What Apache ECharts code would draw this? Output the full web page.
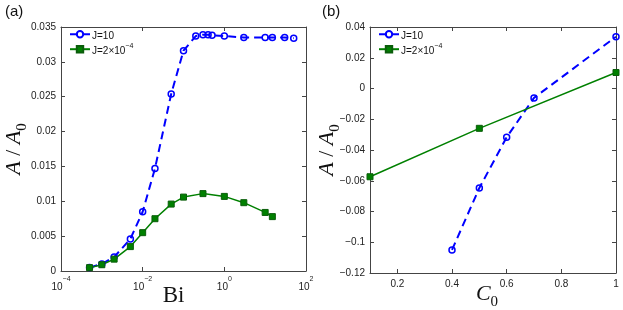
<!DOCTYPE html>
<html><head><meta charset="utf-8">
<script src="https://cdn.jsdelivr.net/npm/echarts@6/dist/echarts.min.js"></script>
<style>html,body{margin:0;padding:0;background:#fff}#c{width:623px;height:310px}</style>
</head><body><div id="c"></div>
<script>
// Panel (a): A/A0 vs Bi (log scale)
const biBlue = [5e-4, 1e-3, 2e-3, 5e-3, 1e-2, 2e-2, 5e-2, 0.1, 0.2, 0.3, 0.4, 0.5, 1, 3, 10, 15, 30, 50];
const aBlue  = [0.0005, 0.001, 0.002, 0.0046, 0.0085, 0.0147, 0.0254, 0.0316, 0.0337, 0.0339, 0.0339, 0.0338, 0.0337, 0.0335, 0.0335, 0.0335, 0.0335, 0.0334];
const biGreen = [5e-4, 1e-3, 2e-3, 5e-3, 1e-2, 2e-2, 5e-2, 0.1, 0.3, 1, 3, 10, 15];
const aGreen  = [0.00048, 0.0009, 0.0017, 0.0035, 0.0055, 0.0075, 0.0096, 0.0106, 0.0111, 0.0107, 0.0098, 0.0084, 0.0078];
const biTicks = [1e-4, 1e-2, 1, 100];
const aTicks = [0, 0.005, 0.01, 0.015, 0.02, 0.025, 0.03, 0.035];
// Panel (b): A/A0 vs C0
const c0Blue = [0.4, 0.5, 0.6, 0.7, 1.0];
const bBlue  = [-0.105, -0.0647, -0.0317, -0.0061, 0.0337];
const c0Green = [0.1, 0.5, 1.0];
const bGreen  = [-0.0574, -0.0259, 0.0104];
const c0Ticks = [0.2, 0.4, 0.6, 0.8, 1];
const bTicks = [-0.12, -0.1, -0.08, -0.06, -0.04, -0.02, 0, 0.02, 0.04];
const seriesNames = ['J=10', 'J=2e-4'];

const AX = '#444';
const SANS = 'Liberation Sans, Arial, sans-serif';
const SERIF = 'Liberation Serif, Times New Roman, serif';
const BLUE = '#0000ff', GREEN = '#008000';

function zip(xs, ys) { return xs.map((x, i) => [x, ys[i]]); }
function minusFmt(v) { return (v < 0 ? '\u2212' : '') + String(Math.abs(+v.toFixed(4))); }
function logFmt(v) {
  const e = Math.round(Math.log10(v));
  return '{b|10}{s|' + (e < 0 ? '\u2212' + (-e) : e) + '}';
}
const axisLineStyle = { show: true, onZero: false, lineStyle: { color: AX, width: 1 } };
const tickIn = { show: true, inside: true, length: 4, lineStyle: { color: AX } };
const labelStyle = { color: '#222', fontFamily: SANS, fontSize: 10 };
const logRich = { b: { fontFamily: SANS, fontSize: 10, color: '#222', verticalAlign: 'bottom', lineHeight: 16 }, s: { fontFamily: SANS, fontSize: 7, color: '#222', verticalAlign: 'top', lineHeight: 16 } };
const nameRich = {
  i: { fontFamily: SERIF, fontStyle: 'italic', fontSize: 22, color: '#111', lineHeight: 24 },
  n: { fontFamily: SERIF, fontSize: 22, color: '#111', lineHeight: 24 },
  sub: { fontFamily: SERIF, fontSize: 15, color: '#111', verticalAlign: 'bottom', lineHeight: 31 }
};
const yNameText = '{i|A}{n| / }{i|A}{sub|0}';

const grids = [
  { left: 61, top: 27, width: 245, height: 244, outerBoundsMode: 'none', containLabel: false },
  { left: 370, top: 27, width: 246, height: 246, outerBoundsMode: 'none', containLabel: false }
];

const xAxes = [
  { gridIndex: 0, type: 'log', logBase: 10, min: 1e-4, max: 100,
    axisLine: axisLineStyle, splitLine: { show: false }, minorTick: { show: false },
    axisTick: Object.assign({}, tickIn, { customValues: biTicks }),
    axisLabel: { customValues: biTicks, formatter: logFmt, rich: logRich, margin: 5 },
    name: 'Bi', nameLocation: 'middle', nameGap: 13, nameMoveOverlap: false,
    nameTextStyle: { fontFamily: SERIF, fontSize: 23, color: '#111', padding: [0, 20, 0, 0], verticalAlign: 'top' } },
  { gridIndex: 0, type: 'log', logBase: 10, min: 1e-4, max: 100, position: 'top',
    axisLine: axisLineStyle, splitLine: { show: false },
    axisTick: Object.assign({}, tickIn, { customValues: biTicks }),
    axisLabel: { show: false } },
  { gridIndex: 1, type: 'value', min: 0.1, max: 1,
    axisLine: axisLineStyle, splitLine: { show: false },
    axisTick: Object.assign({}, tickIn, { customValues: c0Ticks }),
    axisLabel: Object.assign({ customValues: c0Ticks, formatter: v => String(+v.toFixed(2)), margin: 6 }, labelStyle),
    name: '{i|C}{sub|0}', nameLocation: 'middle', nameGap: 6, nameMoveOverlap: false,
    nameTextStyle: { rich: nameRich, verticalAlign: 'top', padding: [0, 12, 0, 0] } },
  { gridIndex: 1, type: 'value', min: 0.1, max: 1, position: 'top',
    axisLine: axisLineStyle, splitLine: { show: false },
    axisTick: Object.assign({}, tickIn, { customValues: c0Ticks }),
    axisLabel: { show: false } }
];

const yAxes = [
  { gridIndex: 0, type: 'value', min: 0, max: 0.035, interval: 0.005,
    axisLine: axisLineStyle, splitLine: { show: false }, axisTick: tickIn,
    axisLabel: Object.assign({ formatter: v => String(+v.toFixed(4)), margin: 5 }, labelStyle),
    name: yNameText, nameLocation: 'middle', nameGap: 31, nameRotate: 90, nameMoveOverlap: false,
    nameTextStyle: { rich: nameRich } },
  { gridIndex: 0, type: 'value', min: 0, max: 0.035, interval: 0.005, position: 'right',
    axisLine: axisLineStyle, splitLine: { show: false }, axisTick: tickIn, axisLabel: { show: false } },
  { gridIndex: 1, type: 'value', min: -0.12, max: 0.04, interval: 0.02,
    axisLine: axisLineStyle, splitLine: { show: false }, axisTick: tickIn,
    axisLabel: Object.assign({ formatter: minusFmt, margin: 5 }, labelStyle),
    name: yNameText, nameLocation: 'middle', nameGap: 27, nameRotate: 90, nameMoveOverlap: false,
    nameTextStyle: { rich: nameRich } },
  { gridIndex: 1, type: 'value', min: -0.12, max: 0.04, interval: 0.02, position: 'right',
    axisLine: axisLineStyle, splitLine: { show: false }, axisTick: tickIn, axisLabel: { show: false } }
];

function blueSeries(x, y, data) {
  return { name: seriesNames[0], type: 'line', xAxisIndex: x, yAxisIndex: y, data: data,
    symbol: 'circle', symbolSize: 6, showSymbol: true,
    lineStyle: { color: BLUE, width: 2, type: [8, 5] },
    itemStyle: { color: 'rgba(255,255,255,0)', borderColor: BLUE, borderWidth: 1.5 },
    emphasis: { disabled: true }, animation: false };
}
function greenSeries(x, y, data) {
  return { name: seriesNames[1], type: 'line', xAxisIndex: x, yAxisIndex: y, data: data,
    symbol: 'rect', symbolSize: 6, showSymbol: true,
    lineStyle: { color: GREEN, width: 1.5 },
    itemStyle: { color: GREEN, borderColor: '#0a5d0a', borderWidth: 1 },
    emphasis: { disabled: true }, animation: false };
}

const legendRich = { t: { fontFamily: SANS, fontSize: 10, color: '#111', verticalAlign: 'bottom', lineHeight: 14 },
                     s: { fontFamily: SANS, fontSize: 7, color: '#111', verticalAlign: 'top', lineHeight: 14 } };
function legendFmt(n) { return n === 'J=10' ? '{t|J=10}' : '{t|J=2\u00d710}{s|\u22124}'; }
function legend(left) {
  return { data: seriesNames, orient: 'vertical', left: left, top: 30, itemGap: 1, padding: 0,
    itemWidth: 20, itemHeight: 8, selectedMode: false, formatter: legendFmt,
    textStyle: { rich: legendRich, padding: [0, 0, 0, -3] } };
}

const titleStyle = { fontFamily: SANS, fontSize: 15, fontWeight: 'normal', color: '#111' };
const chart = echarts.init(document.getElementById('c'), null, { renderer: 'canvas' });
chart.setOption({
  animation: false,
  backgroundColor: '#fff',
  grid: grids,
  xAxis: xAxes,
  yAxis: yAxes,
  legend: [legend(69), legend(378)],
  title: [
    { text: '(a)', left: 5, top: 4, padding: 0, textStyle: titleStyle },
    { text: '(b)', left: 322, top: 4, padding: 0, textStyle: titleStyle }
  ],
  series: [
    blueSeries(0, 0, zip(biBlue, aBlue)),
    greenSeries(0, 0, zip(biGreen, aGreen)),
    blueSeries(2, 2, zip(c0Blue, bBlue)),
    greenSeries(2, 2, zip(c0Green, bGreen))
  ]
});
</script></body></html>
